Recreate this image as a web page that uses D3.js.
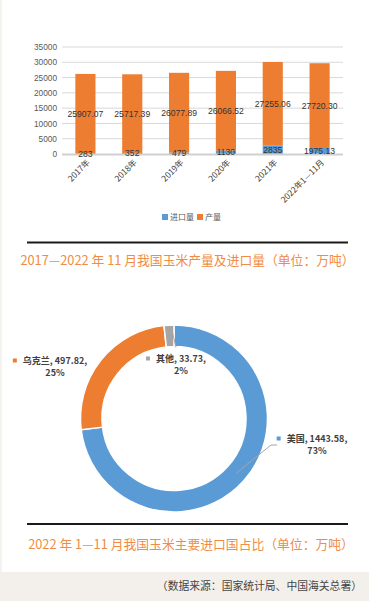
<!DOCTYPE html>
<html>
<head>
<meta charset="utf-8">
<script src="https://cdn.jsdelivr.net/npm/d3@7"></script>
<style>
  html, body { margin: 0; padding: 0; background: #fff; }
  svg { display: block; font-family: "Noto Sans CJK SC", "Noto Sans", sans-serif; }
</style>
</head>
<body>
<svg id="page" width="369" height="601"></svg>
<script>
// data
var years = ['2017年', '2018年', '2019年', '2020年', '2021年', '2022年1—11月'];
var imports = [283, 352, 479, 1130, 2835, 1975.13];
var output = [25907.07, 25717.39, 26077.89, 26066.52, 27255.06, 27720.30];
var importLabels = ['283', '352', '479', '1130', '2835', '1975.13'];
var yTicks = [0, 5000, 10000, 15000, 20000, 25000, 30000, 35000];
var seriesNames = ['进口量', '产量'];

var countries = ['美国', '乌克兰', '其他'];
var countryValues = [1443.58, 497.82, 33.73];

var title1 = '2017—2022 年 11 月我国玉米产量及进口量（单位：万吨）';
var title2 = '2022 年 1—11 月我国玉米主要进口国占比（单位：万吨）';
var source = '（数据来源：国家统计局、中国海关总署）';

var drawPage = (function(d3) {

  var svg = d3.select('#page'),
      blue = '#5b9bd5', orange = '#ed7d31', grey = '#a5a5a5',
      titleColor = '#f08c45', textColor = '#404040';

  // page background bits
  svg.append('rect').attr('x', 0).attr('y', 0).attr('width', 2).attr('height', 601).attr('fill', '#f6f3ee');
  svg.append('rect').attr('x', 0).attr('y', 572).attr('width', 369).attr('height', 29).attr('fill', '#f3f0eb');

  // ---- bar chart ----
  var x = d3.scaleBand().domain(years).range([62, 343]).paddingInner(0.57).paddingOuter(0.285),
      y = d3.scaleLinear().domain([0, 35000]).range([154, 47]),
      rows = years.map(function(d, i) { return { year: d, imp: imports[i], out: output[i], il: importLabels[i] }; }),
      stack = d3.stack().keys(['imp', 'out'])(rows),
      colors = [blue, orange];

  var bar = svg.append('g');

  bar.append('g').selectAll('line')
      .data(yTicks.slice(1))
    .enter().append('line')
      .attr('x1', 62).attr('x2', 343)
      .attr('y1', function(d) { return y(d); }).attr('y2', function(d) { return y(d); })
      .attr('stroke', '#d9d9d9').attr('stroke-width', 1);

  var axisLeft = d3.axisLeft(y).tickValues(yTicks).tickFormat(d3.format('d')).tickSize(0).tickPadding(5);
  bar.append('g').attr('transform', 'translate(62,0)').call(axisLeft)
      .call(function(g) { g.select('.domain').remove(); })
      .selectAll('text').attr('fill', '#595959').style('font-size', '8.3px').style('font-family', 'Liberation Sans, sans-serif');

  stack.forEach(function(s, k) {
    bar.append('g').selectAll('rect')
        .data(s)
      .enter().append('rect')
        .attr('x', function(d) { return x(d.data.year); })
        .attr('width', x.bandwidth())
        .attr('y', function(d) { return y(d[1]); })
        .attr('height', function(d) { return y(d[0]) - y(d[1]); })
        .attr('fill', colors[k]);
  });

  bar.append('line').attr('x1', 62).attr('x2', 343).attr('y1', y(0) + 0.5).attr('y2', y(0) + 0.5)
      .attr('stroke', '#d0d0d0').attr('stroke-width', 2);

  stack.forEach(function(s, k) {
    bar.append('g').selectAll('text')
        .data(s)
      .enter().append('text')
        .attr('x', function(d) { return x(d.data.year) + x.bandwidth() / 2; })
        .attr('y', function(d) { return k === 0 ? Math.min(y((d[0] + d[1]) / 2), y(0) - 0.5) : y((d[0] + d[1]) / 2); })
        .attr('dy', '0.35em')
        .attr('text-anchor', 'middle')
        .attr('fill', '#333')
        .style('font-size', '8.6px')
        .style('font-family', 'Liberation Sans, sans-serif')
        .text(function(d) { return k === 0 ? d.data.il : d3.format('.2f')(d.data.out); });
  });

  var axisBottom = d3.axisBottom(x).tickSize(0).tickPadding(0);
  bar.append('g').attr('transform', 'translate(0,' + 158 + ')').call(axisBottom)
      .call(function(g) { g.select('.domain').remove(); })
      .selectAll('text')
        .attr('text-anchor', 'end')
        .attr('fill', '#404040')
        .attr('dy', '0.35em')
        .attr('transform', 'translate(3,3) rotate(-45)')
        .style('font-size', '8.4px')
        .style('font-family', 'Noto Sans CJK SC, sans-serif');

  // legend
  var legend = svg.append('g').attr('transform', 'translate(162,217)');
  var lx = 0;
  seriesNames.forEach(function(name, i) {
    legend.append('rect').attr('x', lx).attr('y', -3).attr('width', 6).attr('height', 6).attr('fill', colors[i]);
    var t = legend.append('text').attr('x', lx + 8).attr('y', 0).attr('dy', '0.35em')
        .attr('fill', '#595959').style('font-size', '8px').text(name);
    lx += 8 + t.node().getComputedTextLength() + 3;
  });

  // rules and titles
  [242.5, 524].forEach(function(ry) {
    svg.append('line').attr('x1', 27).attr('x2', 348).attr('y1', ry).attr('y2', ry)
        .attr('stroke', '#1a1a1a').attr('stroke-width', 2);
  });

  svg.append('text').attr('x', 187.5).attr('y', 261).attr('dy', '0.35em').attr('text-anchor', 'middle')
      .attr('fill', titleColor).style('font-size', '12.8px').text(title1);
  svg.append('text').attr('x', 191).attr('y', 545).attr('dy', '0.35em').attr('text-anchor', 'middle')
      .attr('fill', titleColor).style('font-size', '12.8px').text(title2);

  svg.append('text').attr('x', 362).attr('y', 586).attr('dy', '0.35em').attr('text-anchor', 'end')
      .attr('fill', '#444').style('font-size', '10.8px').text(source);

  // ---- donut ----
  var cx = 174, cy = 418.5, r0 = 72, r1 = 93.5,
      total = d3.sum(countryValues),
      pieColors = [blue, orange, grey],
      pie = d3.pie().sort(null).value(function(d) { return d.v; }),
      arc = d3.arc().innerRadius(r0).outerRadius(r1),
      mid = d3.arc().innerRadius((r0 + r1) / 2).outerRadius((r0 + r1) / 2),
      slices = pie(countries.map(function(d, i) { return { name: d, v: countryValues[i] }; }));

  var donut = svg.append('g').attr('transform', 'translate(' + cx + ',' + cy + ')');

  donut.selectAll('path')
      .data(slices)
    .enter().append('path')
      .attr('d', arc)
      .attr('fill', function(d, i) { return pieColors[i]; })
      .attr('stroke', '#fff').attr('stroke-width', 1.5);

  // label placement (absolute page positions of label block centres)
  var labelPos = [[317, 445], [55, 367], [181, 365]];

  slices.forEach(function(d, i) {
    var c = mid.centroid(d),
        lx = labelPos[i][0] - cx,
        ly = labelPos[i][1] - cy,
        g = donut.append('g');

    if (i === 0) {
      g.append('polyline').attr('points', [[c[0], c[1]], [97, 26.5], [103, 26.5]].join(' '))
          .attr('fill', 'none').attr('stroke', '#a6a6a6').attr('stroke-width', 1);
    }
    if (i === 2) {
      g.append('line').attr('x1', c[0] + 3).attr('y1', c[1] - 3).attr('x2', 2).attr('y2', -71)
          .attr('stroke', '#a6a6a6').attr('stroke-width', 1);
    }

    var t = g.append('text').attr('text-anchor', 'middle').attr('fill', textColor)
        .style('font-size', '9px').style('font-weight', 'bold');
    var l1 = t.append('tspan').attr('x', lx).attr('y', ly - 6).attr('dy', '0.35em')
        .text(d.data.name + ', ' + d3.format('.2f')(d.data.v) + ',');
    t.append('tspan').attr('x', lx).attr('y', ly + 6).attr('dy', '0.35em')
        .text(Math.round(d.data.v / total * 100) + '%');
    var w = l1.node().getComputedTextLength();
    g.append('rect').attr('x', lx - w / 2 - 10).attr('y', ly - 8.5).attr('width', 4).attr('height', 4)
        .attr('fill', pieColors[i]);
  });

})(d3);
</script>
</body>
</html>
